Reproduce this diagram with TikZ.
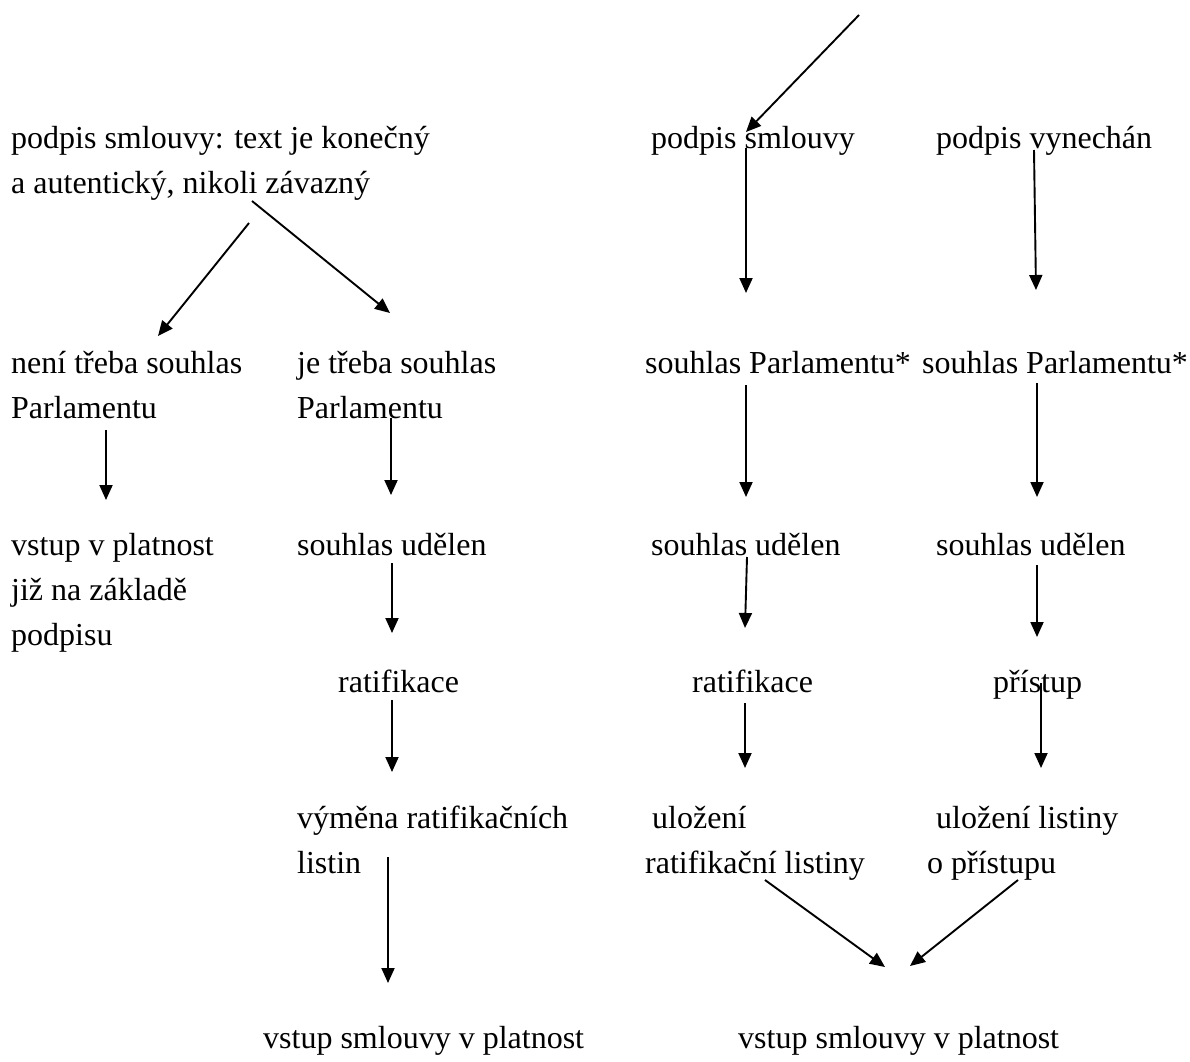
\documentclass[tikz,border=0pt]{standalone}
\usepackage{fontspec}
\setmainfont{Liberation Serif}
\usetikzlibrary{arrows.meta}

\begin{document}
\begin{tikzpicture}[x=1pt, y=-1pt, every node/.style={inner sep=0pt, anchor=base west, align=left, font=\fontsize{32}{45}\selectfont}]
  \tikzset{
    arr/.style={-{Triangle[length=15pt,width=13pt]}, line width=1.9pt}
  }
  \useasboundingbox (0,0) rectangle (1190,1061);

  % left branch (multi-line nodes sit on their last line)
  \node (sigL) at (11,193) {podpis smlouvy: text je konečný\\a autentický, nikoli závazný};
  \node (noparl) at (11,418) {není třeba souhlas\\Parlamentu};
  \node (parlL) at (297,418) {je třeba souhlas\\Parlamentu};
  \node (forceL) at (11,645) {vstup v platnost\\již na základě\\podpisu};
  \node (grantL) at (297,555) {souhlas udělen};
  \node (ratL) at (338,692) {ratifikace};
  \node (exch) at (297,873) {výměna ratifikačních\\listin};
  \node (endL) at (263,1048) {vstup smlouvy v platnost};

  % right branches
  \node (sigM) at (651,148) {podpis smlouvy};
  \node (sigR) at (936,148) {podpis vynechán};
  \node (parlM) at (645,373) {souhlas Parlamentu*};
  \node (parlR) at (922,373) {souhlas Parlamentu*};
  \node (grantM) at (651,555) {souhlas udělen};
  \node (grantR) at (936,555) {souhlas udělen};
  \node (ratM) at (692,692) {ratifikace};
  \node (access) at (993,692) {přístup};
  \node (depM) at (645,873) {\hspace*{7pt}uložení\\ratifikační listiny};
  \node (depR) at (927,873) {\hspace*{9pt}uložení listiny\\o přístupu};
  \node (endR) at (738,1048) {vstup smlouvy v platnost};
  \coordinate (src) at (859,15);

  \draw[arr] ([shift={(238,30)}]sigL.base west) -- ([shift={(147,-82)}]noparl.base west);
  \draw[arr] ([shift={(241,8)}]sigL.base west) -- ([shift={(93,-105)}]parlL.base west);
  \draw[arr] ([shift={(95,12)}]noparl.base west) -- ([shift={(95,-145)}]forceL.base west);
  \draw[arr] ([shift={(94,0)}]parlL.base west) -- ([shift={(94,-60)}]grantL.base west);
  \draw[arr] ([shift={(95,8)}]grantL.base west) -- ([shift={(54,-59)}]ratL.base west);
  \draw[arr] ([shift={(54,8)}]ratL.base west) -- ([shift={(95,-101)}]exch.base west);
  \draw[arr] ([shift={(91,-16)}]exch.base west) -- ([shift={(125,-65)}]endL.base west);

  \draw[arr] (src) -- ([shift={(95,-16)}]sigM.base west);
  \draw[arr] ([shift={(95,0)}]sigM.base west) -- ([shift={(101,-80)}]parlM.base west);
  \draw[arr] ([shift={(98,2)}]sigR.base west) -- ([shift={(114,-83)}]parlR.base west);
  \draw[arr] ([shift={(101,12)}]parlM.base west) -- ([shift={(95,-58)}]grantM.base west);
  \draw[arr] ([shift={(115,10)}]parlR.base west) -- ([shift={(101,-58)}]grantR.base west);
  \draw[arr] ([shift={(96,2)}]grantM.base west) -- ([shift={(53,-64)}]ratM.base west);
  \draw[arr] ([shift={(101,10)}]grantR.base west) -- ([shift={(44,-55)}]access.base west);
  \draw[arr] ([shift={(53,11)}]ratM.base west) -- ([shift={(100,-105)}]depM.base west);
  \draw[arr] ([shift={(48,-9)}]access.base west) -- ([shift={(114,-105)}]depR.base west);
  \draw[arr] ([shift={(120,7)}]depM.base west) -- ([shift={(147,-81)}]endR.base west);
  \draw[arr] ([shift={(91,7)}]depR.base west) -- ([shift={(172,-82)}]endR.base west);
\end{tikzpicture}
\end{document}
